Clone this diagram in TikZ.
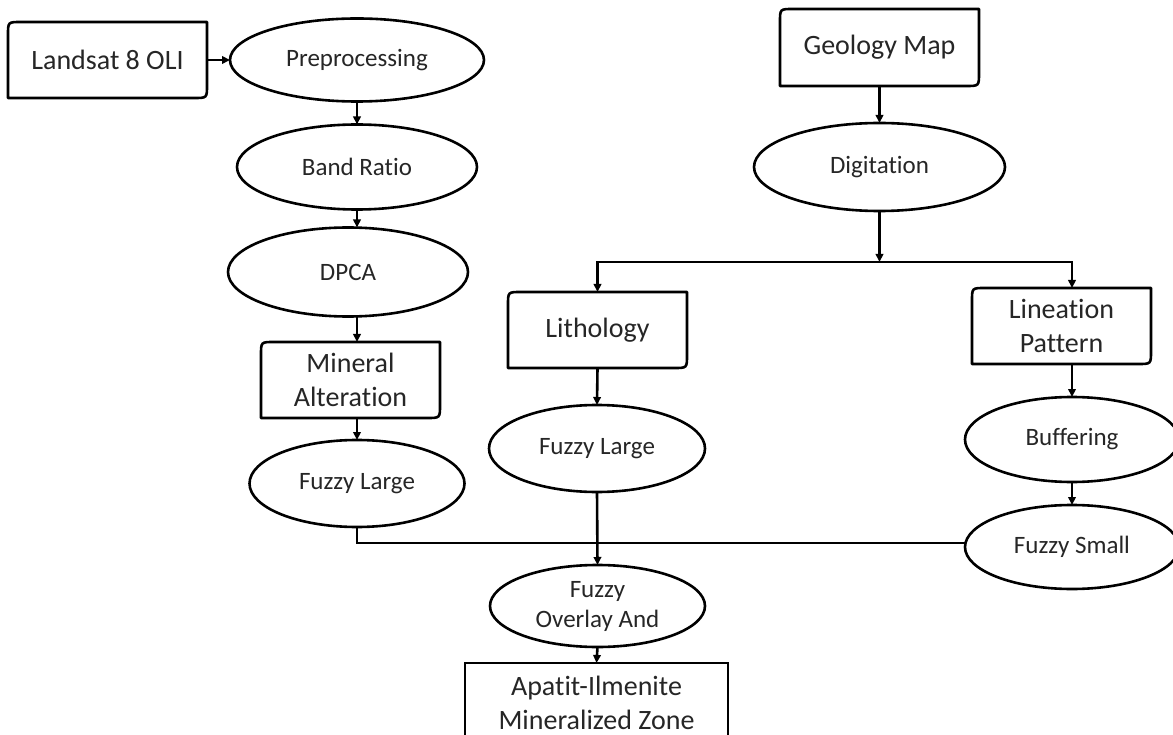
\documentclass[tikz,border=0pt]{standalone}
\usepackage{fontspec}
\setmainfont{Carlito}[RawFeature={-liga;-clig;-dlig;-calt;-rlig}]
\usetikzlibrary{shapes.geometric,arrows.meta}
\definecolor{txtc}{RGB}{38,38,38}
\tikzset{
  shapeline/.style={draw=black, line width=2.6pt},
  conn/.style={black, line width=2.6pt},
  arr/.style={conn, -{Triangle[length=8pt,width=7.5pt]}},
  boxtxt/.style={text=txtc, align=center, inner sep=0pt, outer sep=0pt,
    font=\fontsize{28}{34}\selectfont, rectangle},
  elltxt/.style={ellipse, shapeline, fill=white, text=txtc, align=center, inner sep=0pt, outer sep=0pt,
    font=\fontsize{25}{30}\selectfont},
}
\newcommand\snipbox[1]{%
  \draw[shapeline, line join=round] ([yshift=-13pt]#1.north west) .. controls (#1.north west) .. ([xshift=13pt]#1.north west)
    -- (#1.north east) -- ([yshift=13pt]#1.south east) .. controls (#1.south east) .. ([xshift=-13pt]#1.south east)
    -- (#1.south west) -- cycle;}
\begin{document}
\begin{tikzpicture}[x=1pt,y=-1pt]
\useasboundingbox[fill=white] (0,0) rectangle (1173,735);

% rectangles (document style)
\node[boxtxt, minimum width=199pt, minimum height=76pt] (land) at (107.5,60) {Landsat 8 OLI};
\node[boxtxt, minimum width=199pt, minimum height=77pt] (geo) at (879.5,47.5) {Geology Map};
\node[boxtxt, minimum width=179pt, minimum height=76pt] (lith) at (597.5,330) {Lithology};
\node[boxtxt, minimum width=179pt, minimum height=76pt] (lineat) at (1061.5,326) {Lineation\\Pattern};
\node[boxtxt, minimum width=179pt, minimum height=76pt] (mineral) at (350.5,380) {Mineral\\Alteration};
\node[boxtxt, shapeline, minimum width=263pt, minimum height=80pt] (final) at (596.5,703) {Apatit-Ilmenite\\Mineralized Zone};
\snipbox{land}
\snipbox{geo}
\snipbox{lith}
\snipbox{lineat}
\snipbox{mineral}

% ellipses
\node[elltxt, minimum width=254pt, minimum height=83pt] (pre) at (357,60) {Preprocessing};
\node[elltxt, minimum width=240pt, minimum height=85pt] (band) at (357,167) {Band Ratio};
\node[elltxt, minimum width=240pt, minimum height=89pt] (dpca) at (348,272) {DPCA};
\node[elltxt, minimum width=215pt, minimum height=87pt] (fla) at (357,483.5) {Fuzzy Large};
\node[elltxt, minimum width=251pt, minimum height=88pt] (dig) at (879.5,167) {Digitation};
\node[elltxt, minimum width=216pt, minimum height=87pt] (flb) at (597,448.5) {Fuzzy Large};
\node[elltxt, minimum width=214pt, minimum height=85pt] (buf) at (1072,439.5) {Buffering};
\node[elltxt, minimum width=214pt, minimum height=84pt] (fs) at (1072,547) {Fuzzy Small};
\node[elltxt, minimum width=215pt, minimum height=82pt] (fo) at (597.5,606) {Fuzzy\\Overlay And};

% connectors
\draw[arr] (land.east) -- (pre.west);
\draw[arr] (pre.south) -- (band.north);
\draw[arr] (band.south) -- (dpca.north -| band.south);
\draw[arr] (dpca.south -| band.south) -- (mineral.north -| band.south);
\draw[arr] (mineral.south -| band.south) -- (fla.north);
\draw[conn] (fla.south) |- ([yshift=4pt]fs.west);

\draw[arr] (geo.south) -- (dig.north);
\coordinate (split) at (879.5,262);
\draw[arr] (dig.south) -- (split);
\draw[arr] (split) -| (lith.north);
\draw[arr] (split) -| (lineat.north -| buf.north);
\draw[arr] (lineat.south -| buf.north) -- (buf.north);
\draw[arr] (buf.south) -- (fs.north);
\draw[arr] (lith.south) -- (flb.north);
\draw[arr] (flb.south) -- (fo.north);
\draw[arr] (fo.south) -- (final.north);
\end{tikzpicture}
\end{document}
